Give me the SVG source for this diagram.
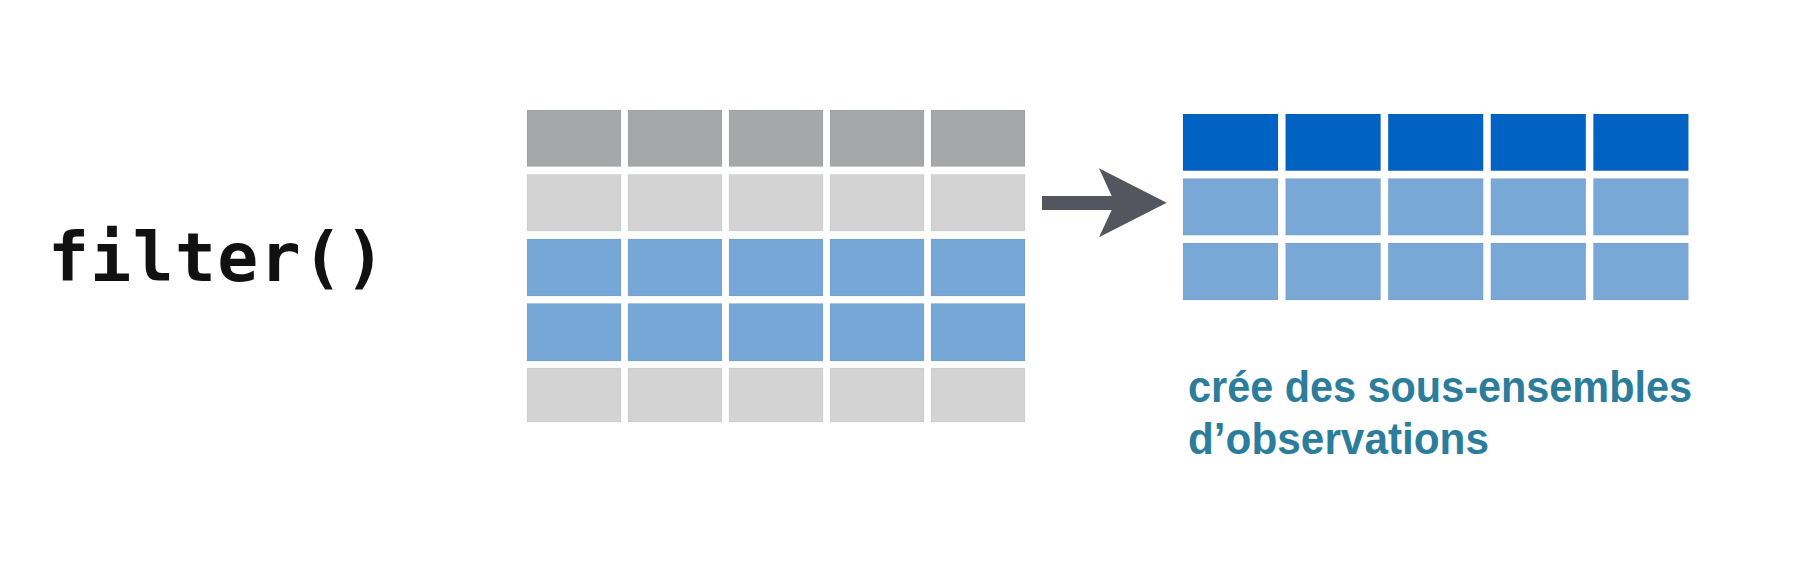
<svg xmlns="http://www.w3.org/2000/svg" width="1799" height="576" viewBox="0 0 1799 576">
<style>
.hd{fill:#a4a8a8}
.lg{fill:#d3d3d3}
.bl{fill:#77a7d6}
.db{fill:#0062c2}
.lb{fill:#7aa8d6}
.cell{stroke:#000;stroke-opacity:0.05;stroke-width:1}
.code{font-family:"DejaVu Sans Mono","Liberation Mono",monospace;font-weight:bold;font-size:68px;letter-spacing:1.4px;fill:#111}
.cap{font-family:"Liberation Sans",Arial,sans-serif;font-weight:bold;font-size:45px;fill:#2b7d9b}
</style>
<rect width="1799" height="576" fill="#ffffff"/>
<g id="func-label">
<text class="code" x="48" y="281">filter()</text>
</g>
<g id="input-table">
<g class="hd cell">
<rect x="527" y="110" width="94" height="56.5"/><rect x="628" y="110" width="94" height="56.5"/><rect x="729" y="110" width="94" height="56.5"/><rect x="830" y="110" width="94" height="56.5"/><rect x="931" y="110" width="94" height="56.5"/>
</g>
<g class="lg cell">
<rect x="527" y="174.5" width="94" height="56.5"/><rect x="628" y="174.5" width="94" height="56.5"/><rect x="729" y="174.5" width="94" height="56.5"/><rect x="830" y="174.5" width="94" height="56.5"/><rect x="931" y="174.5" width="94" height="56.5"/>
</g>
<g class="bl cell">
<rect x="527" y="239" width="94" height="57"/><rect x="628" y="239" width="94" height="57"/><rect x="729" y="239" width="94" height="57"/><rect x="830" y="239" width="94" height="57"/><rect x="931" y="239" width="94" height="57"/>
<rect x="527" y="303.5" width="94" height="57.5"/><rect x="628" y="303.5" width="94" height="57.5"/><rect x="729" y="303.5" width="94" height="57.5"/><rect x="830" y="303.5" width="94" height="57.5"/><rect x="931" y="303.5" width="94" height="57.5"/>
</g>
<g class="lg cell">
<rect x="527" y="368" width="94" height="54"/><rect x="628" y="368" width="94" height="54"/><rect x="729" y="368" width="94" height="54"/><rect x="830" y="368" width="94" height="54"/><rect x="931" y="368" width="94" height="54"/>
</g>
</g>
<g id="connectors">
<polygon points="1042,196 1111.7,196 1099,168.3 1166.7,202.7 1099,237.3 1111.7,210 1042,210" fill="#53565e"/>
</g>
<g id="output-table">
<g class="db cell">
<rect x="1183" y="114" width="95" height="56.7"/><rect x="1285.6" y="114" width="95" height="56.7"/><rect x="1388.2" y="114" width="95" height="56.7"/><rect x="1490.8" y="114" width="95" height="56.7"/><rect x="1593.4" y="114" width="95" height="56.7"/>
</g>
<g class="lb cell">
<rect x="1183" y="178.5" width="95" height="56.7"/><rect x="1285.6" y="178.5" width="95" height="56.7"/><rect x="1388.2" y="178.5" width="95" height="56.7"/><rect x="1490.8" y="178.5" width="95" height="56.7"/><rect x="1593.4" y="178.5" width="95" height="56.7"/>
<rect x="1183" y="243" width="95" height="57"/><rect x="1285.6" y="243" width="95" height="57"/><rect x="1388.2" y="243" width="95" height="57"/><rect x="1490.8" y="243" width="95" height="57"/><rect x="1593.4" y="243" width="95" height="57"/>
</g>
</g>
<g id="caption">
<text class="cap" x="1188" y="402" textLength="504" lengthAdjust="spacingAndGlyphs">crée des sous-ensembles</text>
<text class="cap" x="1188" y="454" textLength="301" lengthAdjust="spacingAndGlyphs">d’observations</text>
</g>
</svg>
